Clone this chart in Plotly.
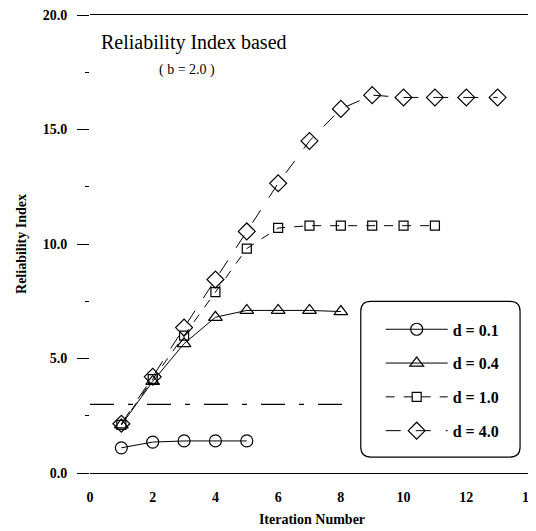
import plotly.graph_objects as go

# values
iters_01 = [1, 2, 3, 4, 5]
beta_01 = [1.1, 1.35, 1.4, 1.4, 1.4]

iters_04 = [1, 2, 3, 4, 5, 6, 7, 8]
beta_04 = [2.1, 4.0, 5.65, 6.8, 7.1, 7.1, 7.1, 7.05]

iters_10 = [1, 2, 3, 4, 5, 6, 7, 8, 9, 10, 11]
beta_10 = [2.1, 4.1, 6.0, 7.9, 9.8, 10.7, 10.8, 10.8, 10.8, 10.8, 10.8]

iters_40 = [1, 2, 3, 4, 5, 6, 7, 8, 9, 10, 11, 12, 13]
beta_40 = [2.15, 4.2, 6.35, 8.45, 10.55, 12.65, 14.5, 15.9, 16.5, 16.4, 16.4, 16.4, 16.4]

target_x = [0, 8.3]
target_y = [3.0, 3.0]

labels = ["d = 0.1", "d = 0.4", "d = 1.0", "d = 4.0"]
y_ticks = [0, 5, 10, 15, 20]
x_ticks = [0, 2, 4, 6, 8, 10, 12, 14]

FONT = "Liberation Serif"

series = [
    (iters_01, beta_01, "circle-open", 12, "solid"),
    (iters_04, beta_04, "triangle-up-open", 12, "solid"),
    (iters_10, beta_10, "square-open", 9, "dash"),
    (iters_40, beta_40, "diamond-open", 13, "longdash"),
]

fig = go.Figure()

fig.add_trace(go.Scatter(x=target_x, y=target_y, mode="lines", showlegend=False,
                         line=dict(color="black", width=1.2, dash="24px,14px,5px,14px")))

for i, (xs, ys, sym, sz, dash) in enumerate(series):
    fig.add_trace(go.Scatter(
        x=xs, y=ys, mode="lines+markers", name=labels[i], legendgroup=labels[i],
        line=dict(color="black", width=1, dash=dash),
        marker=dict(symbol=sym, size=sz, color="black", line=dict(width=1.2)),
    ))


# page pixels -> paper coords (plot area spans x 90..536, y 14..473 on the page)
def px2paper(px, py):
    return (px - 90) / 446, (473 - py) / 459


def rounded_box(x0, y0, x1, y1, r):
    a = px2paper(x0 + r, y0)
    pts = ["M %f %f" % a]
    pts.append("L %f %f" % px2paper(x1 - r, y0))
    pts.append("Q %f %f %f %f" % (px2paper(x1, y0) + px2paper(x1, y0 + r)))
    pts.append("L %f %f" % px2paper(x1, y1 - r))
    pts.append("Q %f %f %f %f" % (px2paper(x1, y1) + px2paper(x1 - r, y1)))
    pts.append("L %f %f" % px2paper(x0 + r, y1))
    pts.append("Q %f %f %f %f" % (px2paper(x0, y1) + px2paper(x0, y1 - r)))
    pts.append("L %f %f" % px2paper(x0, y0 + r))
    pts.append("Q %f %f %f %f Z" % (px2paper(x0, y0) + a))
    return " ".join(pts)


fig.add_shape(type="path", xref="paper", yref="paper",
              path=rounded_box(362, 301, 522, 457, 10),
              line=dict(color="black", width=1.2))

lx, ly = px2paper(382, 312)
# the page body has an 8px margin, so the figure is 8px smaller and shifted
fig.update_layout(
    width=528, height=523,
    margin=dict(l=82, r=0, t=6, b=58),
    paper_bgcolor="rgba(0,0,0,0)", plot_bgcolor="white",
    font=dict(family=FONT, color="black"),
    showlegend=True,
    legend=dict(x=lx, y=ly, xanchor="left", yanchor="top",
                bgcolor="rgba(0,0,0,0)", borderwidth=0,
                font=dict(family=FONT, size=16, color="black", weight="bold"),
                itemwidth=62, tracegroupgap=10),
    xaxis=dict(range=[0, 14.16], tickvals=x_ticks, ticks="",
               showline=True, mirror=True, linecolor="black", linewidth=1.2,
               showgrid=False, zeroline=False, ticklabelstandoff=11,
               ticklabeloverflow="allow",
               tickfont=dict(family=FONT, size=14, weight="bold"),
               title=dict(text="Iteration Number", standoff=10,
                          font=dict(family=FONT, size=14, weight="bold"))),
    yaxis=dict(range=[0, 20], tickvals=y_ticks, tickformat=".1f",
               ticks="outside", ticklen=12, tickcolor="black", tickwidth=1,
               minor=dict(dtick=2.5, ticks="outside", ticklen=4, tickcolor="black"),
               showline=False, showgrid=False, zeroline=False, ticklabelstandoff=7,
               ticklabeloverflow="allow",
               tickfont=dict(family=FONT, size=14, weight="bold"),
               title=dict(text="Reliability Index", standoff=12,
                          font=dict(family=FONT, size=14, weight="bold"))),
)

fig.add_annotation(x=px2paper(194, 0)[0], y=px2paper(0, 42)[1], xref="paper", yref="paper",
                   xanchor="center", yanchor="middle",
                   text="Reliability Index based", showarrow=False,
                   font=dict(family=FONT, size=20, color="black"))
fig.add_annotation(x=px2paper(187, 0)[0], y=px2paper(0, 69)[1], xref="paper", yref="paper",
                   xanchor="center", yanchor="middle",
                   text="( b = 2.0 )", showarrow=False,
                   font=dict(family=FONT, size=14, color="black"))

fig.write_html("out.html")
